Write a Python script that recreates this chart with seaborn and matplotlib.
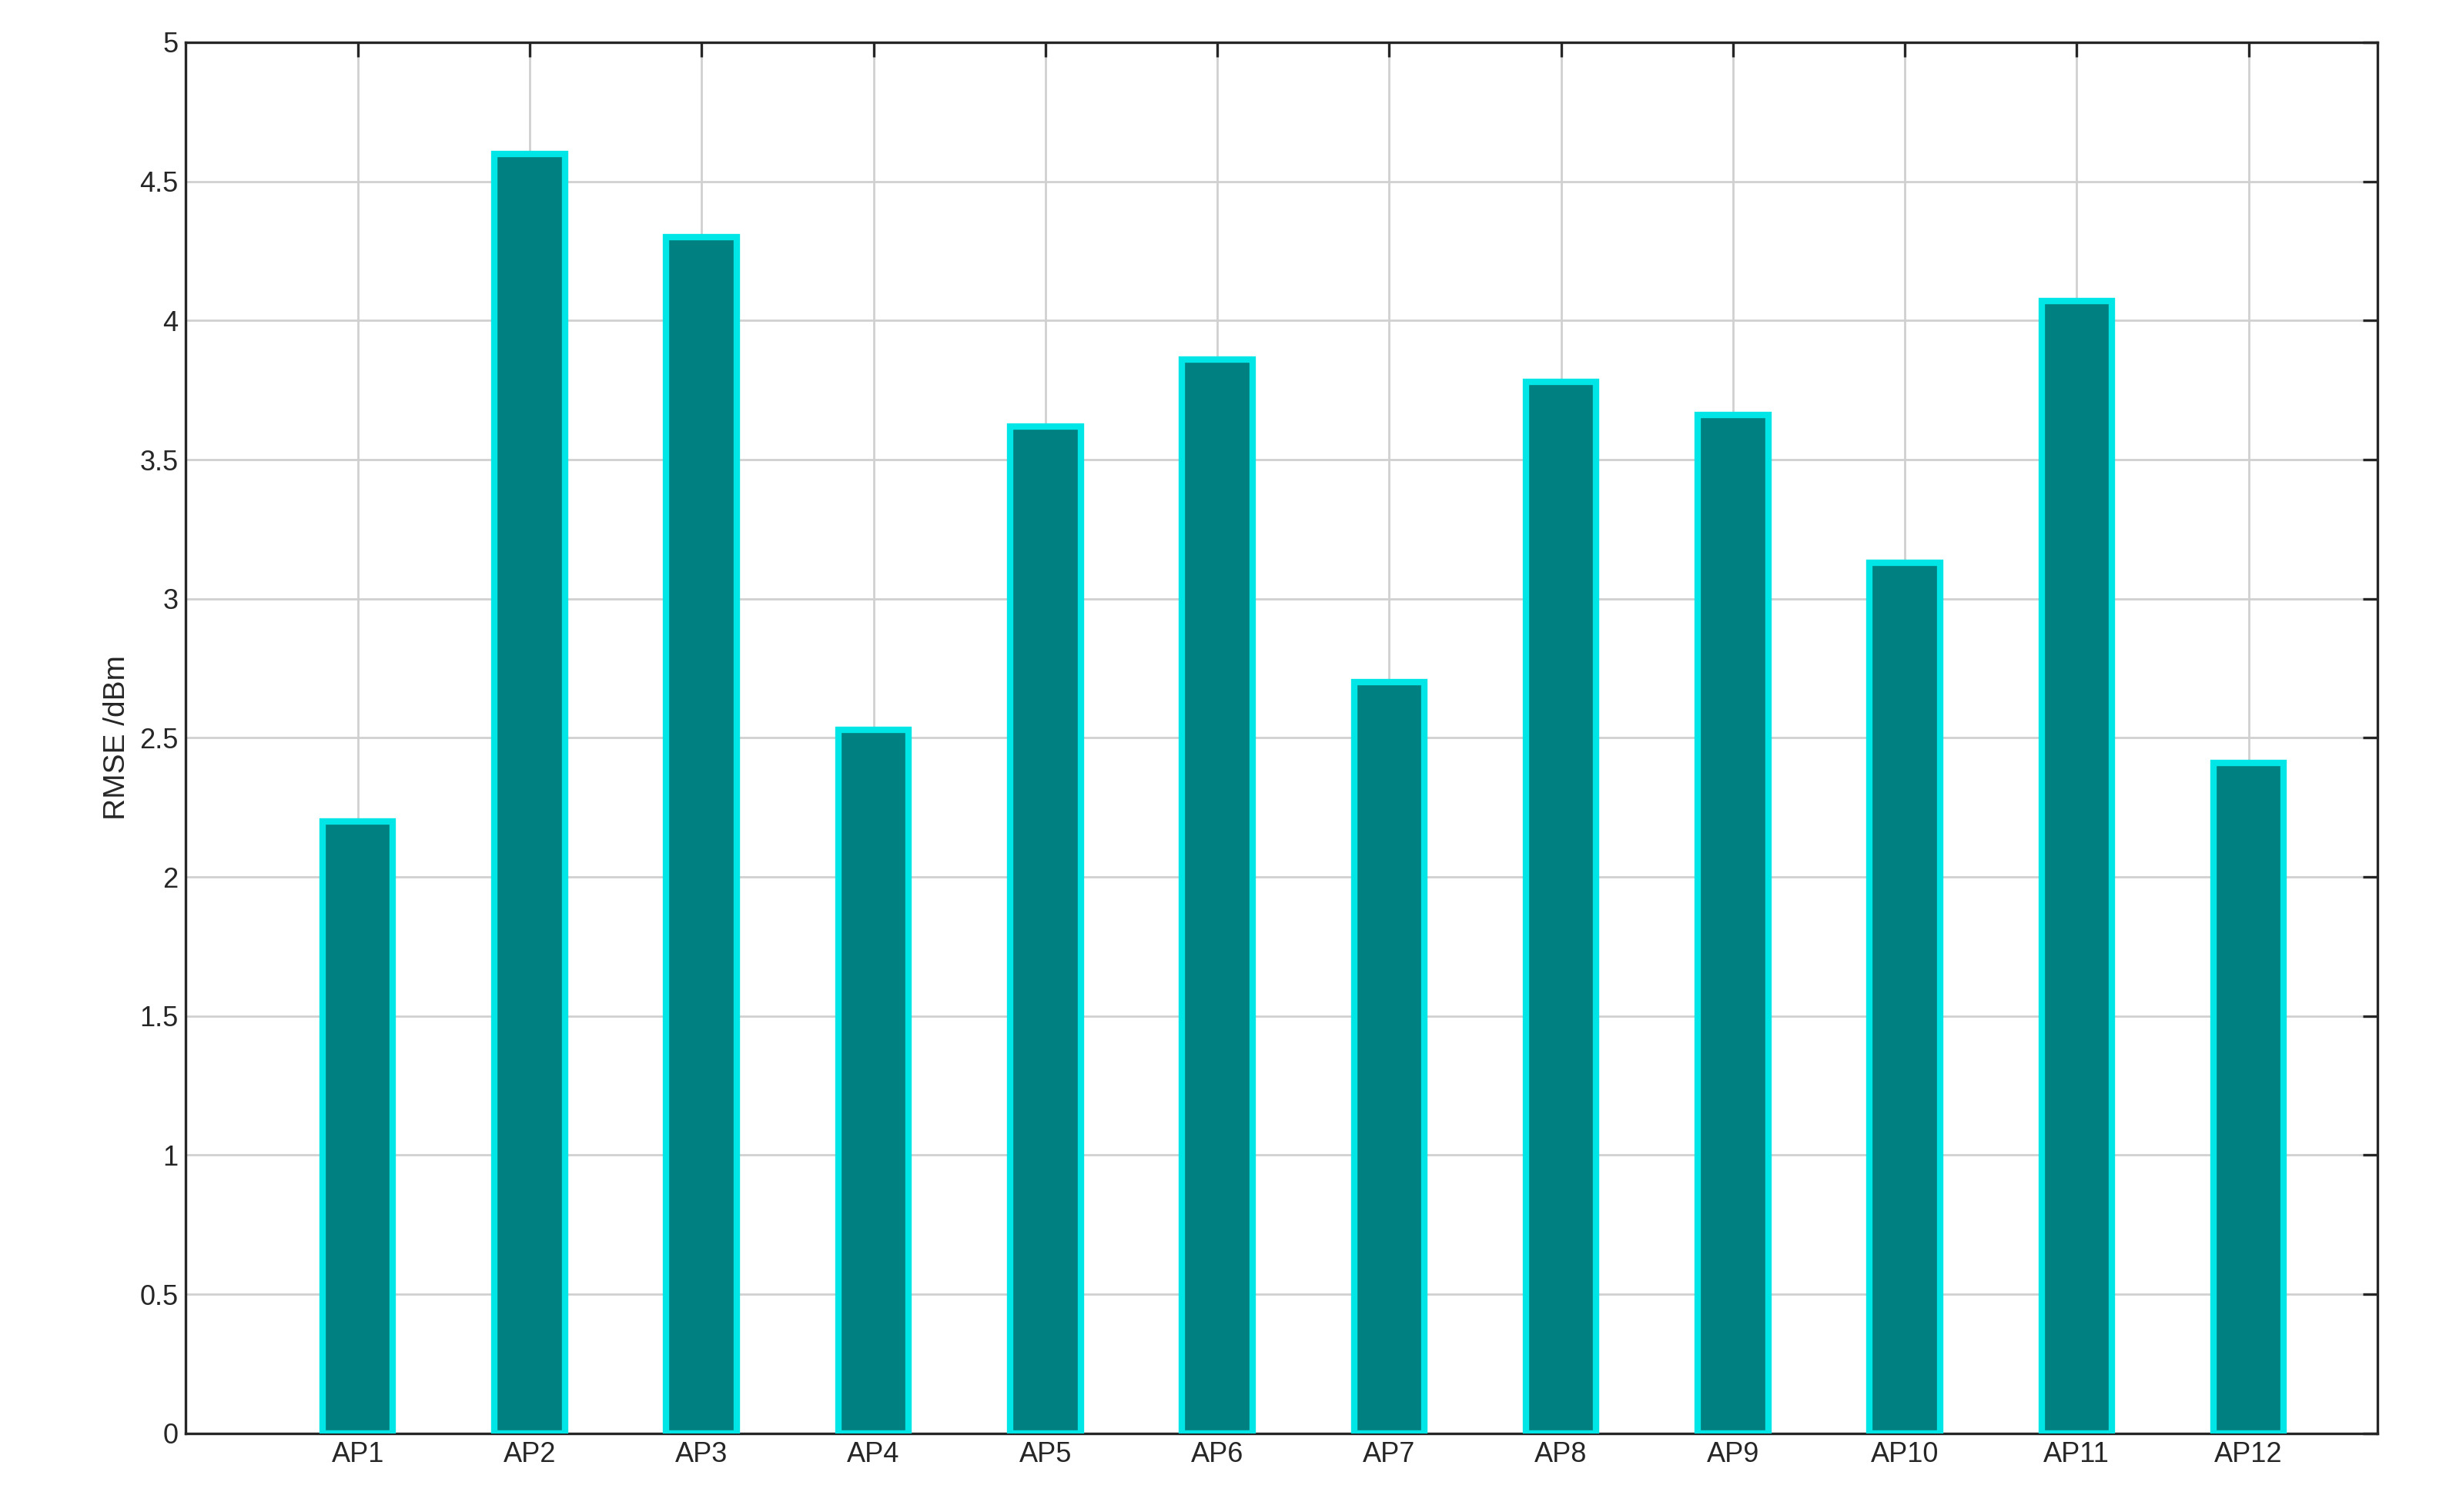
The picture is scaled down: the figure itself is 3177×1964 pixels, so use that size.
import matplotlib
matplotlib.use("Agg")
import pandas as pd
import seaborn as sns
import matplotlib.pyplot as plt

aps = [f"AP{i}" for i in range(1, 13)]
rmse = [2.20, 4.60, 4.30, 2.53, 3.62, 3.86, 2.70, 3.78, 3.66, 3.13, 4.07, 2.41]

sns.set_style("white")
plt.rcParams["font.family"] = ["Liberation Sans", "DejaVu Sans"]

df = pd.DataFrame({"ap": aps, "rmse": rmse})

fig = plt.figure(figsize=(15.885, 9.82), dpi=200)
ax = fig.add_axes([0.076, 0.052, 0.896, 0.92])
sns.barplot(data=df, x="ap", y="rmse", color="#008080", saturation=1,
            width=0.41, edgecolor="#00e5e5", linewidth=3, ax=ax, zorder=3)

ax.set_xlim(-1, 11.75)
ax.set_ylim(0, 5)
ax.set_yticks([0, 0.5, 1, 1.5, 2, 2.5, 3, 3.5, 4, 4.5, 5],
              ["0", "0.5", "1", "1.5", "2", "2.5", "3", "3.5", "4", "4.5", "5"])
ax.grid(True, color="#d0d0d0", linewidth=1.0, zorder=0)
ax.set_axisbelow(True)
ax.tick_params(direction="in", top=True, right=True, length=7, width=1.2,
               labelsize=13, colors="#262626")
for s in ax.spines.values():
    s.set_color("#262626")
    s.set_linewidth(1.2)
ax.set_xlabel("")
ax.set_ylabel("RMSE /dBm", fontsize=14, color="#262626")

fig.savefig("out.png", dpi=200)
